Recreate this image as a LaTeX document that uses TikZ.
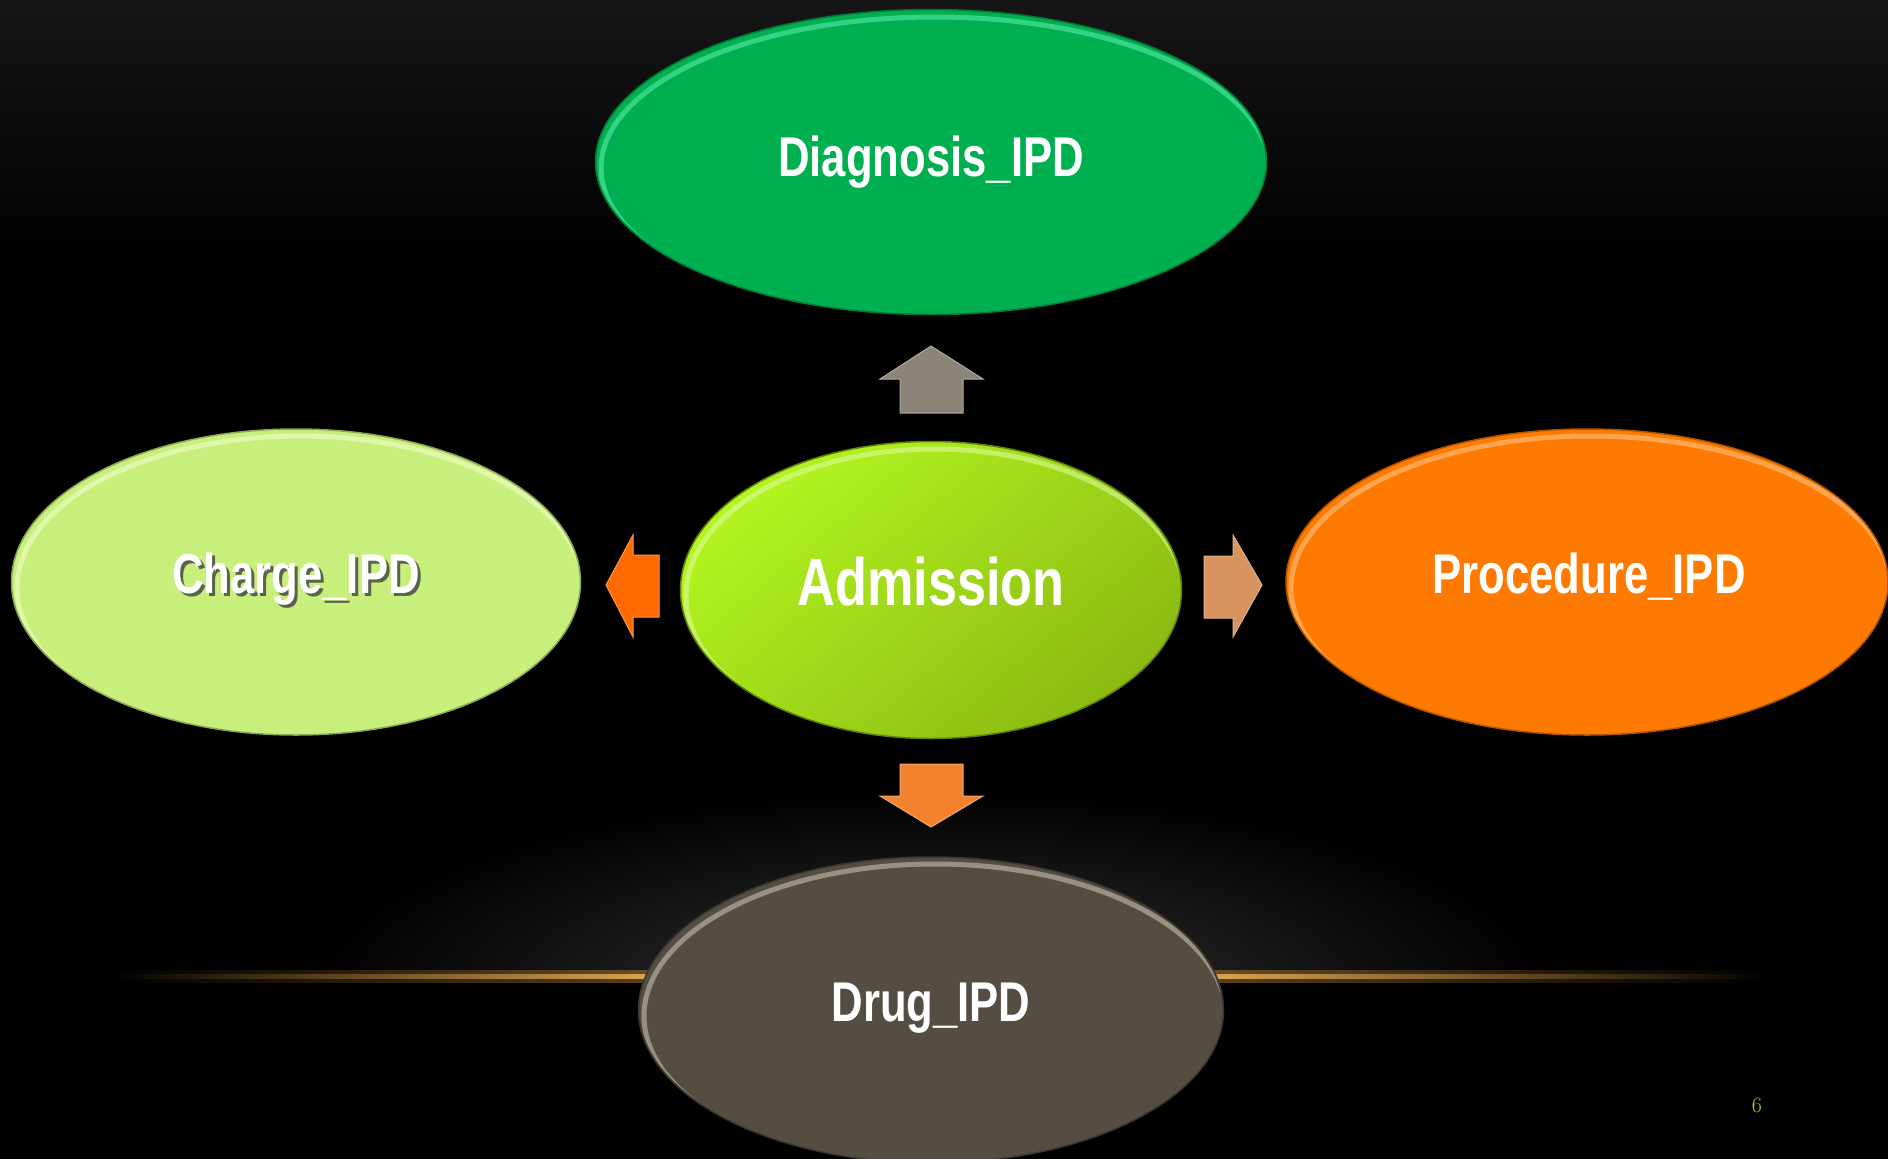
\documentclass[tikz,border=0pt]{standalone}
\usepackage{fontspec}
\newfontfamily\nar{Liberation Sans}[FakeStretch=0.78]
\usetikzlibrary{shapes.geometric}
\definecolor{bgtop}{HTML}{161616}
\definecolor{glow}{HTML}{C88A40}
\definecolor{glowcore}{HTML}{F0B458}
\definecolor{diagc}{HTML}{00B050}
\definecolor{diagrim}{HTML}{60F0B0}
\definecolor{admA}{HTML}{B2F520}
\definecolor{admB}{HTML}{8CBA12}
\definecolor{chargec}{HTML}{C8EE7C}
\definecolor{chargerim}{HTML}{F4FFD0}
\definecolor{procc}{HTML}{FF7A00}
\definecolor{procrim}{HTML}{FFC890}
\definecolor{drugc}{HTML}{554D42}
\definecolor{drugrim}{HTML}{D0C8BA}
\definecolor{upc}{HTML}{8C8478}
\definecolor{leftc}{HTML}{FF6A00}
\definecolor{rightc}{HTML}{D8925E}
\definecolor{downc}{HTML}{F2822E}
\definecolor{pagec}{HTML}{9ACD32}
\begin{document}
\begin{tikzpicture}[x=1pt,y=-1pt,
  blob/.style={ellipse, inner sep=0pt, line width=1.5pt},
  rimline/.style={line width=5pt, opacity=0.55},
  lbl/.style={text=white, font=\nar\bfseries\fontsize{56}{60}\selectfont},
  shd/.style={text=black!75, opacity=0.8, font=\nar\bfseries\fontsize{56}{60}\selectfont},
  blockarrow/.style={line width=1pt, line join=miter}]
\useasboundingbox (0,0) rectangle (1888,1159);
\fill[black] (0,0) rectangle (1888,1159);
\shade[top color=bgtop, bottom color=black] (0,0) rectangle (1888,260);
% spotlight glow above horizon
\begin{scope}
  \clip (0,760) rectangle (1888,976);
  \shade[inner color=black!80!white, outer color=black] (931,990) ellipse (620 and 200);
\end{scope}
% horizon line
\shade[left color=black, right color=glow, opacity=0.5] (110,970) rectangle (700,982);
\shade[left color=glow, right color=black, opacity=0.5] (1160,970) rectangle (1770,982);
\shade[left color=black, right color=glowcore] (110,974) rectangle (700,978);
\shade[left color=glowcore, right color=black] (1160,974) rectangle (1770,978);
% ellipses
\node[blob, fill=diagc, draw=diagc!70!black, minimum width=671pt, minimum height=305pt] (diag) at (931,162) {};
\node[blob, fill=chargec, draw=chargec!70!black, minimum width=569pt, minimum height=306pt] (charge) at (296,582) {};
\node[blob, fill=procc, draw=procc!70!black, minimum width=602pt, minimum height=306pt] (proc) at (1587,582) {};
\node[blob, fill=drugc, draw=drugc!70!black, minimum width=585pt, minimum height=306pt] (drug) at (931,1010) {};
\node[blob, left color=admA, right color=admB, shading angle=40, draw=admB!70!black, minimum width=501pt, minimum height=297pt] (adm) at (931,590) {};
% bevel highlights
\begin{scope}
  \clip (diag.center) ellipse (334 and 151);
  \draw[rimline, draw=diagrim] ([shift={(4,6)}]diag.center) ellipse (334 and 151);
\end{scope}
\begin{scope}
  \clip (charge.center) ellipse (283 and 152);
  \draw[rimline, draw=chargerim] ([shift={(4,6)}]charge.center) ellipse (283 and 152);
\end{scope}
\begin{scope}
  \clip (proc.center) ellipse (300 and 152);
  \draw[rimline, draw=procrim] ([shift={(4,6)}]proc.center) ellipse (300 and 152);
\end{scope}
\begin{scope}
  \clip (drug.center) ellipse (291 and 152);
  \draw[rimline, draw=drugrim] ([shift={(4,6)}]drug.center) ellipse (291 and 152);
\end{scope}
\begin{scope}
  \clip (adm.center) ellipse (249 and 147);
  \draw[rimline, draw=admA!40!white] ([shift={(4,6)}]adm.center) ellipse (249 and 147);
\end{scope}
% labels
\node[lbl] (tdiag) at (diag.center) {Diagnosis\_IPD};
\node[shd] at ([xshift=3pt,yshift=0pt]charge.center) {Charge\_IPD};
\node[lbl] (tcharge) at ([yshift=3pt]charge.center) {Charge\_IPD};
\node[lbl] (tproc) at ([xshift=2pt,yshift=5pt]proc.center) {Procedure\_IPD};
\node[lbl] (tdrug) at ([yshift=2pt]drug.center) {Drug\_IPD};
\node[lbl, font=\nar\bfseries\fontsize{67}{72}\selectfont] (tadm) at ([yshift=8pt]adm.center) {Admission};
% block arrows
\filldraw[blockarrow, fill=upc, draw=upc!70!white] (931,346) -- (983,379) -- (963,379) -- (963,413) -- (900,413) -- (900,379) -- (880,379) -- cycle;
\filldraw[blockarrow, fill=downc, draw=downc!70!white] (900,764) -- (963,764) -- (963,796) -- (983,796) -- (931,827) -- (880,796) -- (900,796) -- cycle;
\filldraw[blockarrow, fill=leftc, draw=leftc!70!white] (606,585) -- (633,535) -- (633,555) -- (659,555) -- (659,617) -- (633,617) -- (633,637) -- cycle;
\filldraw[blockarrow, fill=rightc, draw=rightc!70!white] (1204,556) -- (1233,556) -- (1233,535) -- (1262,585) -- (1233,637) -- (1233,618) -- (1204,618) -- cycle;
% page number
\node[text=pagec, font=\fontsize{22}{24}\selectfont] (page) at (1757,1105) {6};
\end{tikzpicture}
\end{document}
